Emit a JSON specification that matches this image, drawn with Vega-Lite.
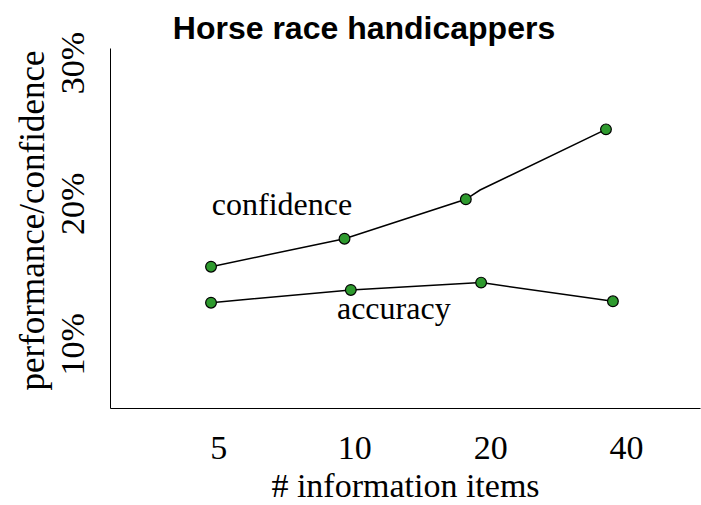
{
  "$schema": "https://vega.github.io/schema/vega-lite/v6.json",
  "width": 590,
  "height": 360,
  "autosize": "none",
  "padding": {"left": 110, "top": 48, "right": 1, "bottom": 97},
  "background": "white",
  "title": {
    "text": "Horse race handicappers",
    "font": "Liberation Sans",
    "fontSize": 32,
    "fontWeight": "bold",
    "color": "black",
    "frame": "group",
    "anchor": "middle",
    "dx": -41,
    "dy": 19,
    "offset": 4
  },
  "config": {
    "view": {"stroke": null},
    "axis": {
      "grid": false,
      "ticks": false,
      "domainColor": "black",
      "domainWidth": 1,
      "labelFont": "Liberation Serif",
      "titleFont": "Liberation Serif",
      "labelColor": "black",
      "titleColor": "black",
      "titleFontWeight": "normal",
      "labelOverlap": false,
      "labelFlush": false
    }
  },
  "datasets": {
    "series": [
      {"series": "confidence", "items": 4.82, "value": 0.1549, "marker": true},
      {"series": "confidence", "items": 9.52, "value": 0.1748, "marker": true},
      {"series": "confidence", "items": 17.67, "value": 0.2028, "marker": true},
      {"series": "confidence", "items": 19.0, "value": 0.2094, "marker": false},
      {"series": "confidence", "items": 36.1, "value": 0.2525, "marker": true},
      {"series": "accuracy", "items": 4.82, "value": 0.1293, "marker": true},
      {"series": "accuracy", "items": 9.83, "value": 0.1384, "marker": true},
      {"series": "accuracy", "items": 19.1, "value": 0.1436, "marker": true},
      {"series": "accuracy", "items": 37.4, "value": 0.1303, "marker": true}
    ],
    "labels": [
      {"label": "confidence", "items": 4.84, "value": 0.1917},
      {"label": "accuracy", "items": 9.16, "value": 0.1175}
    ]
  },
  "encoding": {
    "x": {
      "field": "items",
      "type": "quantitative",
      "scale": {"type": "log", "domain": [2.88, 58.3], "nice": false},
      "axis": {
        "values": [5, 10, 20, 40],
        "format": "d",
        "labelFontSize": 34,
        "labelPadding": 23,
        "title": "# information items",
        "titleFontSize": 34,
        "titlePadding": 4
      }
    },
    "y": {
      "field": "value",
      "type": "quantitative",
      "scale": {"domain": [0.0545, 0.3103], "nice": false, "zero": false},
      "axis": {
        "values": [0.1, 0.2, 0.3],
        "format": ".0%",
        "labelAngle": -90,
        "labelFontSize": 34,
        "labelPadding": 20,
        "title": "performance/confidence",
        "titleFontSize": 35,
        "titlePadding": 6,
        "titleY": 172
      }
    }
  },
  "layer": [
    {
      "data": {"name": "series"},
      "mark": {"type": "line", "color": "black", "strokeWidth": 1.5},
      "encoding": {
        "detail": {"field": "series"},
        "order": {"field": "items", "type": "quantitative"}
      }
    },
    {
      "data": {"name": "series"},
      "transform": [{"filter": "datum.marker"}],
      "mark": {"type": "point", "filled": true, "fill": "#2e9a2e", "stroke": "black", "strokeWidth": 1.2, "size": 115, "opacity": 1}
    },
    {
      "data": {"name": "labels"},
      "mark": {"type": "text", "font": "Liberation Serif", "fontSize": 32, "align": "left", "baseline": "alphabetic", "color": "black"},
      "encoding": {"text": {"field": "label"}}
    }
  ]
}
